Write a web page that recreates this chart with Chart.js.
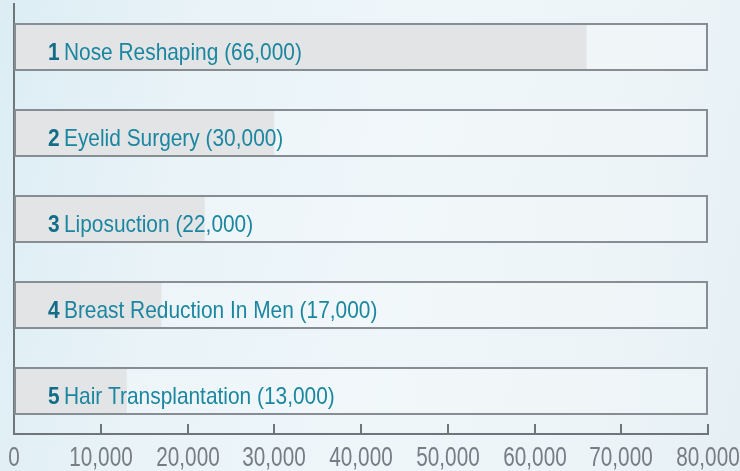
<!DOCTYPE html>
<html>
<head>
<meta charset="utf-8">
<script src="https://cdn.jsdelivr.net/npm/chart.js@4/dist/chart.umd.min.js"></script>
<style>
  html, body { margin: 0; padding: 0; }
  body {
    width: 740px; height: 471px; overflow: hidden;
    background: linear-gradient(100deg, #dcedf4 0%, #e9f3f8 25%, #eef6f9 55%, #ecf4f7 80%, #e6f0f4 100%);
  }
  #wrap { position: relative; width: 740px; height: 471px; }
</style>
</head>
<body>
<div id="wrap"><canvas id="c" width="740" height="471"></canvas></div>
<script>
const ranks = ['1', '2', '3', '4', '5'];
const categories = ['Nose Reshaping', 'Eyelid Surgery', 'Liposuction', 'Breast Reduction In Men', 'Hair Transplantation'];
const values = [66000, 30000, 22000, 17000, 13000];
const valueLabels = ['66,000', '30,000', '22,000', '17,000', '13,000'];
const axisMax = 80000;
const frameValues = [80000, 80000, 80000, 80000, 80000];
const tickValues = [0, 10000, 20000, 30000, 40000, 50000, 60000, 70000, 80000];
const tickLabels = ['0', '10,000', '20,000', '30,000', '40,000', '50,000', '60,000', '70,000', '80,000'];

const FONT = '"Liberation Sans Narrow", "Arial Narrow", "Liberation Sans", sans-serif';

const labelPlugin = {
  id: 'barLabels',
  afterDatasetsDraw(chart) {
    const ctx = chart.ctx;
    const meta = chart.getDatasetMeta(1);
    const area = chart.chartArea;
    const sx = 0.87;
    ctx.save();
    ctx.textBaseline = 'middle';
    meta.data.forEach((bar, i) => {
      const y = bar.y + 6;
      ctx.save();
      ctx.translate(area.left + 34, y);
      ctx.scale(sx, 1);
      let x = 0;
      ctx.font = 'bold 24px ' + FONT;
      ctx.fillStyle = '#146d88';
      ctx.fillText(ranks[i], x, 0);
      x += ctx.measureText(ranks[i]).width + 5;
      ctx.font = '24px ' + FONT;
      ctx.fillStyle = '#1b86a0';
      ctx.fillText(categories[i] + ' (' + valueLabels[i] + ')', x, 0);
      ctx.restore();
    });
    ctx.restore();
  }
};

const tickPlugin = {
  id: 'innerTicks',
  afterDraw(chart) {
    const ctx = chart.ctx;
    const xs = chart.scales.x;
    const area = chart.chartArea;
    ctx.save();
    ctx.strokeStyle = '#6e757b';
    ctx.lineWidth = 2;
    tickValues.forEach((v, i) => {
      const px = Math.round(xs.getPixelForValue(v));
      ctx.beginPath();
      ctx.moveTo(px, area.bottom);
      ctx.lineTo(px, area.bottom - 10);
      ctx.stroke();
      ctx.save();
      ctx.translate(px, 466);
      ctx.scale(0.74, 1);
      ctx.font = '28px ' + FONT;
      ctx.fillStyle = '#767d83';
      ctx.textAlign = 'center';
      ctx.textBaseline = 'alphabetic';
      ctx.fillText(tickLabels[i], 0, 0);
      ctx.restore();
    });
    ctx.restore();
  }
};

new Chart(document.getElementById('c'), {
  type: 'bar',
  data: {
    labels: categories,
    datasets: [
      {
        data: frameValues,
        backgroundColor: 'rgba(255,255,255,0.22)',
        borderColor: '#868d93',
        borderWidth: 2,
        borderSkipped: false,
        barPercentage: 0.56,
        categoryPercentage: 1,
        grouped: false
      },
      {
        data: values,
        backgroundColor: '#dcdddf',
        borderWidth: 0,
        barPercentage: 0.56,
        categoryPercentage: 1,
        grouped: false
      }
    ]
  },
  options: {
    indexAxis: 'y',
    responsive: false,
    animation: false,
    events: [],
    layout: { padding: { left: 14, top: 4, right: 32, bottom: 37 } },
    plugins: { legend: { display: false }, tooltip: { enabled: false } },
    scales: {
      x: {
        min: 0, max: axisMax,
        afterBuildTicks(scale) { scale.ticks = tickValues.map(v => ({ value: v })); },
        grid: { display: false, drawTicks: false },
        border: { display: true, color: '#6e757b', width: 2 },
        ticks: { display: false }
      },
      y: {
        offset: true,
        grid: { display: false, drawTicks: false },
        border: { display: true, color: '#6e757b', width: 2 },
        ticks: { display: false }
      }
    }
  },
  plugins: [labelPlugin, tickPlugin]
});
</script>
</body>
</html>
